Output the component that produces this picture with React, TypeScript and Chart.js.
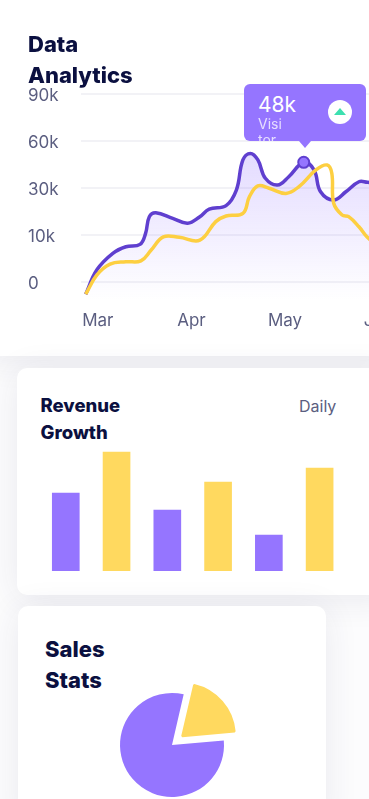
import React, { useEffect, useRef } from "react";
import Chart from "chart.js/auto";

const monthLabels = ["Mar", "Apr", "May", "Jun"];
const valueTicks = ["0", "10k", "30k", "60k", "90k"];
const tickValues = [0, 10, 30, 60, 90];

const visitorMonths = [-0.13, -0.01, 0.16, 0.3, 0.45, 0.51, 0.55, 0.62, 0.8, 0.96, 1.09, 1.19, 1.37, 1.48, 1.55, 1.63, 1.71, 1.79, 1.92, 2.04, 2.2, 2.31, 2.38, 2.52, 2.65, 2.79, 2.88, 2.96];
const visitorValues = [-2.6, 2.6, 6.1, 7.5, 8, 10.7, 17.8, 19.5, 17.1, 15, 17.8, 21, 22.5, 29.1, 47.9, 52.1, 47.9, 36.2, 31.9, 37.2, 46.4, 41.5, 28.4, 24.9, 28.4, 34, 33.6, 33];
const salesMonths = [-0.13, -0.01, 0.13, 0.3, 0.46, 0.57, 0.7, 0.87, 1.09, 1.26, 1.37, 1.55, 1.62, 1.71, 1.83, 2.01, 2.15, 2.33, 2.45, 2.5, 2.52, 2.61, 2.68, 2.79, 2.88, 3];
const salesValues = [-2.6, 1.5, 3.8, 4.3, 4.5, 6.8, 9.6, 9.5, 8.9, 15.7, 18.1, 19.2, 26.3, 31.3, 29.9, 27.7, 30.9, 41.5, 44.7, 39.4, 23.5, 18.5, 17.8, 13.5, 9.5, 7.5];
const highlightMonth = [2.2];
const highlightValue = [46.4];

const revenueDays = ["1", "2", "3", "4", "5", "6"];
const revenueValues = [78, 119, 61, 89, 36, 103];

const pieLabels = ["Sales", "Rest"];
const pieValues = [20, 80];

const PURPLE = "#9575ff";
const DEEP = "#5f3fcf";
const YELLOW = "#ffd95f";
const LINE_YELLOW = "#fdcf41";
const INK = "#0b1040";
const MUTED = "#5b5e80";
const FONT = "Inter, sans-serif";

// The value axis is evenly spaced over uneven values (0, 10k, 30k, 60k, 90k).
const toAxis = (v: number) => {
  if (v < tickValues[0]) return v / 10;
  for (let i = 0; i < tickValues.length - 1; i++) {
    if (v <= tickValues[i + 1]) return i + (v - tickValues[i]) / (tickValues[i + 1] - tickValues[i]);
  }
  return tickValues.length - 1;
};
const toPoints = (xs: number[], ys: number[]) => xs.map((x, i) => ({ x, y: toAxis(ys[i]) }));

const card = (left: number, top: number, width: number, height: number, radius: string): React.CSSProperties => ({
  position: "absolute",
  left,
  top,
  width,
  height,
  background: "#fff",
  borderRadius: radius,
  boxShadow: "0 4px 34px rgba(40,40,90,0.09)",
});

const title = (left: number, top: number, size: number, lh: number): React.CSSProperties => ({
  position: "absolute",
  left,
  top,
  fontFamily: FONT,
  fontWeight: 800,
  fontSize: size,
  lineHeight: `${lh}px`,
  color: INK,
});

export default function App() {
  const lineRef = useRef<HTMLCanvasElement>(null);
  const barRef = useRef<HTMLCanvasElement>(null);
  const pieRef = useRef<HTMLCanvasElement>(null);

  useEffect(() => {
    document.body.style.margin = "0";
    const line = new Chart(lineRef.current!, {
      type: "line",
      data: {
        datasets: [
          {
            data: toPoints(highlightMonth, highlightValue),
            showLine: false,
            pointRadius: 5.5,
            pointBackgroundColor: PURPLE,
            pointBorderColor: DEEP,
            pointBorderWidth: 2,
            order: 0,
          },
          {
            data: toPoints(salesMonths, salesValues),
            borderColor: LINE_YELLOW,
            borderWidth: 3.5,
            pointRadius: 0,
            tension: 0.4,
            fill: false,
            order: 1,
          },
          {
            data: toPoints(visitorMonths, visitorValues),
            borderColor: DEEP,
            borderWidth: 3.5,
            pointRadius: 0,
            tension: 0.4,
            fill: "start",
            order: 2,
            backgroundColor: (ctx: any) => {
              const area = ctx.chart.chartArea;
              if (!area) return "rgba(149,117,255,0.2)";
              const g = ctx.chart.ctx.createLinearGradient(0, area.top + 50, 0, area.bottom);
              g.addColorStop(0, "rgba(149,117,255,0.28)");
              g.addColorStop(1, "rgba(149,117,255,0)");
              return g;
            },
          },
        ],
      },
      options: {
        responsive: false,
        animation: false,
        parsing: { xAxisKey: "x", yAxisKey: "y" },
        layout: { padding: { top: 14, left: 0, right: 0, bottom: 0 } },
        plugins: { legend: { display: false }, tooltip: { enabled: false } },
        scales: {
          x: {
            type: "linear",
            min: -0.18,
            max: 3.437,
            grid: { display: false },
            border: { display: false },
            afterFit: (s: any) => { s.height = 30; },
            ticks: {
              stepSize: 1,
              includeBounds: false,
              maxRotation: 0,
              padding: 3,
              color: MUTED,
              font: { family: FONT, size: 17 },
              callback: (v: any) => monthLabels[v] ?? "",
            },
          },
          y: {
            min: -0.383,
            max: 4,
            grid: { color: "#f2f2f6", lineWidth: 2, drawTicks: false },
            border: { display: false },
            afterFit: (s: any) => { s.width = 53; },
            ticks: {
              stepSize: 1,
              includeBounds: false,
              crossAlign: "far",
              padding: 0,
              labelOffset: 2,
              color: MUTED,
              font: { family: FONT, size: 17 },
              callback: (v: any) => valueTicks[v] ?? "",
            },
          },
        },
      } as any,
    });

    const bar = new Chart(barRef.current!, {
      type: "bar",
      data: {
        labels: revenueDays,
        datasets: [
          {
            data: revenueValues,
            backgroundColor: revenueValues.map((_, i) => (i % 2 === 0 ? PURPLE : YELLOW)),
            barThickness: 27,
          },
        ],
      },
      options: {
        responsive: false,
        animation: false,
        layout: { padding: { left: 0.4 } },
        plugins: { legend: { display: false }, tooltip: { enabled: false } },
        scales: {
          x: { display: false },
          y: { display: false, min: 0, max: 120 },
        },
      } as any,
    });

    const pie = new Chart(pieRef.current!, {
      type: "pie",
      data: {
        labels: pieLabels,
        datasets: [
          {
            data: pieValues,
            backgroundColor: [YELLOW, PURPLE],
            borderColor: [YELLOW, PURPLE],
            borderWidth: [2, 0],
            offset: [54, 0],
          },
        ],
      },
      options: {
        responsive: false,
        animation: false,
        rotation: 13,
        radius: 52,
        plugins: { legend: { display: false }, tooltip: { enabled: false } },
      } as any,
    });

    return () => {
      line.destroy();
      bar.destroy();
      pie.destroy();
    };
  }, []);

  return (
    <div style={{ position: "absolute", left: 0, top: 0, width: 369, height: 799, overflow: "hidden", background: "#fcfcfd" }}>
      <div style={card(-20, -20, 420, 376, "0 0 14px 14px")} />
      <div style={card(17, 368, 380, 227, "10px")} />
      <div style={card(17.5, 606, 308.5, 220, "10px")} />

      <canvas ref={lineRef} width={399} height={250} style={{ position: "absolute", left: 28, top: 80 }} />
      <div style={title(28, 29, 22, 31)}>Data<br />Analytics</div>

      <div style={{ position: "absolute", left: 244, top: 84, width: 122, height: 57, background: PURPLE, borderRadius: 6, overflow: "hidden", color: "#fff", fontFamily: FONT }}>
        <div style={{ position: "absolute", left: 14, top: 7, fontSize: 21, lineHeight: "28px" }}>48k</div>
        <div style={{ position: "absolute", left: 14, top: 32, width: 28, fontSize: 14, lineHeight: "15.5px", color: "#e6deff" }}>Visi<br />tor</div>
        <div style={{ position: "absolute", left: 84, top: 16, width: 24, height: 24, borderRadius: 12, background: "#fff" }} />
        <div style={{ position: "absolute", left: 90, top: 24, width: 0, height: 0, borderLeft: "6px solid transparent", borderRight: "6px solid transparent", borderBottom: "7px solid #3ce0b0" }} />
      </div>
      <div style={{ position: "absolute", left: 299, top: 141, width: 0, height: 0, borderLeft: "6px solid transparent", borderRight: "6px solid transparent", borderTop: "7px solid " + PURPLE }} />

      <div style={title(40.5, 392, 18.5, 27)}>Revenue<br />Growth</div>
      <div style={{ position: "absolute", left: 299, top: 395, fontFamily: FONT, fontSize: 16, lineHeight: "22px", color: MUTED }}>Daily</div>
      <canvas ref={barRef} width={305} height={120} style={{ position: "absolute", left: 40, top: 451 }} />

      <div style={title(45, 634, 22, 31)}>Sales<br />Stats</div>
      <canvas ref={pieRef} width={160} height={160} style={{ position: "absolute", left: 92, top: 665 }} />
    </div>
  );
}
